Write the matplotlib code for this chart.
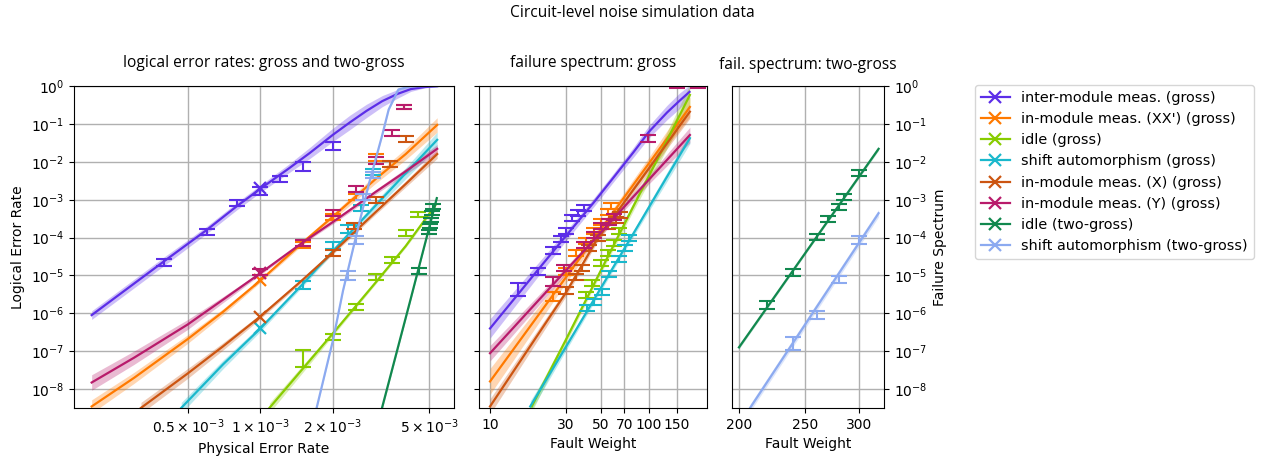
import matplotlib.pyplot as plt
import numpy as np
from matplotlib.lines import Line2D
from matplotlib.ticker import NullLocator

# series order / colours (legend order)
labels = ["inter-module meas. (gross)", "in-module meas. (XX') (gross)", "idle (gross)",
          "shift automorphism (gross)", "in-module meas. (X) (gross)",
          "in-module meas. (Y) (gross)", "idle (two-gross)", "shift automorphism (two-gross)"]
colors = ["#5c2ee8", "#ff7a00", "#88cc00", "#1ab8cc", "#cc5511", "#b81b6b", "#11884e", "#8caaf0"]

# ---------------- left panel: logical error rate vs physical error rate ----------------
# inter-module (gross)
inter_p = [4.0e-4, 6.0e-4, 8.0e-4, 1.0e-3, 1.2e-3, 1.5e-3, 2.0e-3]
inter_y = [2.2e-5, 1.4e-4, 8.0e-4, 1.7e-3, 3.5e-3, 7.4e-3, 2.6e-2]
inter_err = [1.25, 1.2, 1.2, 1.25, 1.2, 1.3, 1.3]
inter_fp = [2e-4, 4e-4, 6e-4, 8e-4, 1e-3, 1.3e-3, 1.6e-3, 2e-3, 2.35e-3, 2.75e-3, 3.2e-3, 3.7e-3, 4.2e-3, 4.8e-3, 5.4e-3]
inter_fy = [9e-7, 2.4e-5, 1.6e-4, 6.8e-4, 1.95e-3, 6.4e-3, 1.7e-2, 5.2e-2, 0.11, 0.22, 0.40, 0.62, 0.83, 0.94, 0.99]
inter_band = [1.3, 1.3, 1.25, 1.25, 1.25, 1.3, 1.4, 1.5, 1.55, 1.5, 1.4, 1.3, 1.15, 1.05, 1.02]

# in-module XX' (gross)
xx_p = [1.5e-3, 2.0e-3, 2.5e-3, 3.0e-3, 3.95e-3]
xx_y = [6.3e-5, 3.6e-4, 1.2e-3, 1.3e-2, 0.28]
xx_err = [1.2, 1.2, 1.2, 1.25, 1.15]
xx_fp = [2e-4, 3e-4, 5e-4, 7e-4, 1e-3, 1.5e-3, 2e-3, 3e-3, 4e-3, 5.4e-3]
xx_fy = [3.5e-9, 2.0e-8, 2.1e-7, 1.1e-6, 7.4e-6, 7.5e-5, 3.6e-4, 3.5e-3, 1.6e-2, 9.4e-2]
xx_band = [1.5, 1.4, 1.3, 1.2, 1.12, 1.15, 1.2, 1.3, 1.4, 1.55]

# idle (gross)
idle_p = [1.5e-3, 2.0e-3, 2.5e-3, 3.0e-3, 3.5e-3, 4.0e-3, 4.5e-3]
idle_y = [6.5e-8, 2.4e-7, 1.45e-6, 9.3e-6, 2.6e-5, 1.3e-4, 4.0e-4]
idle_err = [1.7, 1.2, 1.2, 1.2, 1.2, 1.2, 1.15]
idle_fp = [1.09e-3, 1.5e-3, 2e-3, 3e-3, 4e-3, 5.3e-3]
idle_fy = [3.2e-9, 3.5e-8, 3e-7, 6.5e-6, 6.0e-5, 7e-4]
idle_band = [1.35, 1.25, 1.15, 1.1, 1.1, 1.15]

# shift automorphism (gross)
shift_p = [1.5e-3, 2.0e-3, 2.3e-3, 2.6e-3, 2.92e-3]
shift_y = [5.6e-6, 6.3e-5, 1.7e-4, 5.9e-4, 5.5e-3]
shift_err = [1.25, 1.25, 1.25, 1.2, 1.2]
shift_fp = [4.7e-4, 7e-4, 1e-3, 1.5e-3, 2e-3, 3e-3, 4e-3, 5.4e-3]
shift_fy = [3.2e-9, 4.5e-8, 4e-7, 6e-6, 4.5e-5, 7e-4, 5e-3, 3.8e-2]
shift_band = [1.4, 1.3, 1.2, 1.15, 1.15, 1.25, 1.4, 1.6]

# in-module X (gross)
mx_p = [2.0e-3, 2.45e-3, 3.0e-3, 3.45e-3, 4.0e-3]
mx_y = [3.9e-5, 2.0e-4, 1.0e-3, 8.5e-3, 3.9e-2]
mx_err = [1.2, 1.2, 1.2, 1.2, 1.2]
mx_fp = [3.2e-4, 5e-4, 7e-4, 1e-3, 1.5e-3, 2e-3, 3e-3, 4e-3, 5.4e-3]
mx_fy = [3.2e-9, 2.6e-8, 1.35e-7, 8.3e-7, 7.8e-6, 4.1e-5, 4.7e-4, 2.6e-3, 1.6e-2]
mx_band = [1.4, 1.35, 1.25, 1.15, 1.12, 1.12, 1.15, 1.2, 1.3]

# in-module Y (gross)
my_p = [1.0e-3, 1.5e-3, 2.0e-3, 2.5e-3, 3.0e-3, 3.5e-3, 3.95e-3]
my_y = [1.2e-5, 7.4e-5, 4.4e-4, 1.9e-3, 1.1e-2, 5.9e-2, 0.28]
my_err = [1.2, 1.2, 1.2, 1.2, 1.25, 1.2, 1.15]
my_fp = [2e-4, 3e-4, 5e-4, 7e-4, 1e-3, 1.5e-3, 2e-3, 3e-3, 4e-3, 5.4e-3]
my_fy = [1.5e-8, 6.8e-8, 5.1e-7, 2.3e-6, 1.15e-5, 7.5e-5, 2.6e-4, 1.6e-3, 5.6e-3, 2.2e-2]
my_band = [1.6, 1.5, 1.35, 1.2, 1.1, 1.1, 1.12, 1.15, 1.2, 1.3]

# idle (two-gross)
idle2_p = [4.55e-3, 5.0e-3, 5.05e-3, 5.1e-3, 5.15e-3, 5.2e-3]
idle2_y = [1.3e-5, 1.4e-4, 2.0e-4, 2.9e-4, 4.5e-4, 6.5e-4]
idle2_err = [1.2, 1.15, 1.15, 1.15, 1.15, 1.15]
idle2_fp = [3.19e-3, 4.2e-3, 5.38e-3]
idle2_fy = [3.2e-9, 2.5e-6, 1.1e-3]
idle2_band = [1.15, 1.1, 1.1]

# shift automorphism (two-gross)
shift2_p = [2.31e-3, 2.5e-3, 2.67e-3, 2.92e-3]
shift2_y = [1.0e-5, 8.7e-5, 1.2e-3, 4.5e-3]
shift2_err = [1.3, 1.25, 1.2, 1.2]
shift2_fp = [1.71e-3, 2.0e-3, 2.2e-3, 2.47e-3, 2.8e-3, 3.19e-3, 3.4e-3, 3.73e-3, 4.2e-3, 4.8e-3, 5.4e-3]
shift2_fy = [3.2e-9, 2e-7, 4e-6, 8.7e-5, 2.3e-3, 4.8e-2, 0.24, 0.81, 0.98, 1.0, 1.0]
shift2_band = [1.08] * 11

# 'x' markers at p = 1e-3 (inter, XX', shift, X, Y)
mark_p = 1e-3
mark_y = [2.0e-3, 7.6e-6, None, 4.0e-7, 7.9e-7, 1.15e-5, None, None]

# ---------------- middle panel: failure spectrum (gross) ----------------
inter_w = [15, 20, 25, 28, 30, 33, 36, 39]
inter_s = [4.2e-6, 1.3e-5, 4.5e-5, 9e-5, 1.5e-4, 3.2e-4, 4.5e-4, 6e-4]
inter_serr = [1.5, 1.25, 1.25, 1.2, 1.2, 1.2, 1.2, 1.2]
inter_fw = [10, 20, 30, 45, 60, 80, 100, 130, 155, 180]
inter_fs = [4e-7, 1.4e-5, 1.1e-4, 8.5e-4, 3.9e-3, 1.8e-2, 6.2e-2, 0.2, 0.4, 0.7]
inter_sband = [1.8, 1.5, 1.35, 1.3, 1.3, 1.35, 1.45, 1.55, 1.6, 1.5]

xx_w = [25, 30, 35, 40, 45, 50, 55, 58]
xx_s = [2.8e-6, 1.3e-5, 3.9e-5, 8e-5, 1.5e-4, 2.6e-4, 4.6e-4, 6.8e-4]
xx_serr = [1.3, 1.25, 1.2, 1.2, 1.2, 1.2, 1.2, 1.2]
xx_fw = [10, 30, 60, 100, 181]
xx_fs = [1.6e-8, 8.9e-6, 4.8e-4, 9.1e-3, 0.28]
xx_sband = [2.2, 1.4, 1.3, 1.45, 1.8]

idle_w = [40, 44, 50, 55, 60, 65]
idle_s = [3.1e-6, 6.3e-6, 2.1e-5, 4e-5, 7.4e-5, 1.5e-4]
idle_serr = [1.2] * 6
idle_fw = [18.3, 30, 50, 80, 120, 181]
idle_fs = [3.5e-9, 2e-7, 1.4e-5, 6.8e-4, 1.9e-2, 0.58]
idle_sband = [1.4, 1.25, 1.2, 1.3, 1.6, 1.9]

shift_w = [41, 45, 51, 56, 65, 71, 75]
shift_s = [1.36e-6, 2.0e-6, 3.7e-6, 1.1e-5, 2.8e-5, 5.2e-5, 1e-4]
shift_serr = [1.2] * 7
shift_fw = [17.9, 30, 50, 80, 120, 181]
shift_fs = [3.5e-9, 1.3e-7, 4.8e-6, 1.3e-4, 2.3e-3, 4.2e-2]
shift_sband = [1.4, 1.25, 1.2, 1.2, 1.3, 1.4]

mx_w = [30, 35, 38, 42, 48, 55, 62, 66]
mx_s = [4e-6, 9.3e-6, 1.55e-5, 5.2e-5, 1e-4, 2e-4, 3e-4, 4e-4]
mx_serr = [1.25, 1.2, 1.2, 1.2, 1.2, 1.2, 1.2, 1.2]
mx_fw = [10, 30, 47, 100, 181]
mx_fs = [3.5e-9, 3.5e-6, 8.7e-5, 6.7e-3, 0.21]
mx_sband = [1.6, 1.25, 1.2, 1.3, 1.5]

my_w = [25, 29, 39, 45, 50, 56, 60, 99, 150, 205]
my_s = [6.9e-6, 1.55e-5, 6.3e-5, 1.2e-4, 2.0e-4, 2.6e-4, 3.6e-4, 4.2e-2, 1.0, 1.0]
my_serr = [1.3, 1.2, 1.2, 1.2, 1.2, 1.2, 1.2, 1.25, 1.1, 1.1]
my_fw = [10, 30, 60, 100, 181]
my_fs = [8.9e-8, 1.35e-5, 3.2e-4, 3.4e-3, 5.1e-2]
my_sband = [1.6, 1.25, 1.2, 1.3, 1.6]

# ---------------- right panel: failure spectrum (two-gross) ----------------
idle2_w = [220, 240, 260, 270, 280, 285, 300]
idle2_s = [1.66e-6, 1.2e-5, 1.05e-4, 3.1e-4, 6.6e-4, 1.2e-3, 5e-3]
idle2_serr = [1.3, 1.25, 1.2, 1.2, 1.2, 1.2, 1.2]
idle2_fw = [200, 260, 320]
idle2_fs = [1.27e-7, 1.07e-4, 2.2e-2]
idle2_sband = [1.1, 1.08, 1.1]

shift2_w = [240, 260, 280, 300]
shift2_s = [1.6e-7, 9.1e-7, 7.9e-6, 8.7e-5]
shift2_serr = [1.45, 1.25, 1.25, 1.25]
shift2_fw = [207.6, 320]
shift2_fs = [3.2e-9, 4.4e-4]
shift2_sband = [1.25, 1.25]


def draw(ax, fx, fy, band, color, px, py, perr):
    fx, fy, band = np.array(fx), np.array(fy), np.array(band)
    ax.fill_between(fx, fy / band, fy * band, color=color, alpha=0.3, lw=0)
    ax.plot(fx, fy, color=color, lw=1.6)
    px, py, perr = np.array(px), np.array(py), np.array(perr)
    ax.errorbar(px, py, yerr=[py - py / perr, py * perr - py], fmt='none', ecolor=color,
                capsize=5.5, elinewidth=1.5, capthick=1.5)


fig = plt.figure(figsize=(12.65, 4.58), dpi=100)
ax1 = fig.add_axes([0.0585, 0.1092, 0.3004, 0.703])
ax2 = fig.add_axes([0.3787, 0.1092, 0.1802, 0.703])
ax3 = fig.add_axes([0.5787, 0.1092, 0.1202, 0.703])

left = [(inter_fp, inter_fy, inter_band, inter_p, inter_y, inter_err),
        (xx_fp, xx_fy, xx_band, xx_p, xx_y, xx_err),
        (idle_fp, idle_fy, idle_band, idle_p, idle_y, idle_err),
        (shift_fp, shift_fy, shift_band, shift_p, shift_y, shift_err),
        (mx_fp, mx_fy, mx_band, mx_p, mx_y, mx_err),
        (my_fp, my_fy, my_band, my_p, my_y, my_err),
        (idle2_fp, idle2_fy, idle2_band, idle2_p, idle2_y, idle2_err),
        (shift2_fp, shift2_fy, shift2_band, shift2_p, shift2_y, shift2_err)]
for i, s in enumerate(left):
    draw(ax1, *s[:3], colors[i], *s[3:])
    if mark_y[i] is not None:
        ax1.plot(mark_p, mark_y[i], 'x', color=colors[i], ms=8, mew=1.6)

middle = [(0, inter_fw, inter_fs, inter_sband, inter_w, inter_s, inter_serr),
          (1, xx_fw, xx_fs, xx_sband, xx_w, xx_s, xx_serr),
          (2, idle_fw, idle_fs, idle_sband, idle_w, idle_s, idle_serr),
          (3, shift_fw, shift_fs, shift_sband, shift_w, shift_s, shift_serr),
          (4, mx_fw, mx_fs, mx_sband, mx_w, mx_s, mx_serr),
          (5, my_fw, my_fs, my_sband, my_w, my_s, my_serr)]
for s in middle:
    draw(ax2, *s[1:4], colors[s[0]], *s[4:])

draw(ax3, idle2_fw, idle2_fs, idle2_sband, colors[6], idle2_w, idle2_s, idle2_serr)
draw(ax3, shift2_fw, shift2_fs, shift2_sband, colors[7], shift2_w, shift2_s, shift2_serr)

yt = [10.0 ** k for k in range(-8, 1)]
for ax in (ax1, ax2, ax3):
    ax.set_xscale('log')
    ax.set_yscale('log')
    ax.set_ylim(3.19e-9, 1.0)
    ax.set_yticks(yt)
    ax.xaxis.set_minor_locator(NullLocator())
    ax.yaxis.set_minor_locator(NullLocator())
    ax.grid(True, color='#b0b0b0', lw=1)
    ax.set_axisbelow(True)

title_font = dict(family='Open Sans', fontsize=11.2)

ax1.set_xlim(1.69e-4, 6.34e-3)
ax1.set_xticks([5e-4, 1e-3, 2e-3, 5e-3])
ax1.set_xticklabels([r'$0.5\times10^{-3}$', r'$1\times10^{-3}$', r'$2\times10^{-3}$', r'$5\times10^{-3}$'])
ax1.set_xlabel("Physical Error Rate")
ax1.set_ylabel("Logical Error Rate")
ax1.set_title("logical error rates: gross and two-gross", pad=14, **title_font)

ax2.set_xlim(8.53, 232)
ax2.set_xticks([10, 30, 50, 70, 100, 150])
ax2.set_xticklabels(['10', '30', '50', '70', '100', '150'])
ax2.tick_params(axis='y', labelleft=False)
ax2.set_xlabel("Fault Weight")
ax2.set_title("failure spectrum: gross", pad=14, **title_font)

ax3.set_xlim(195.4, 326)
ax3.set_xticks([200, 250, 300])
ax3.set_xticklabels(['200', '250', '300'])
ax3.yaxis.tick_right()
ax3.yaxis.set_label_position('right')
ax3.set_xlabel("Fault Weight")
ax3.set_ylabel("Failure Spectrum")
ax3.set_title("fail. spectrum: two-gross", pad=12, **title_font)

fig.suptitle("Circuit-level noise simulation data", y=0.988, **title_font)

handles = [Line2D([], [], color=c, marker='x', ms=8, mew=1.6, lw=1.6) for c in colors]
fig.legend(handles, labels, loc='upper left', bbox_to_anchor=(975 / 1265, 1 - 85 / 458),
           bbox_transform=fig.transFigure, borderaxespad=0, fontsize=10.4, labelspacing=0.5)

fig.savefig("out.png", dpi=100)
